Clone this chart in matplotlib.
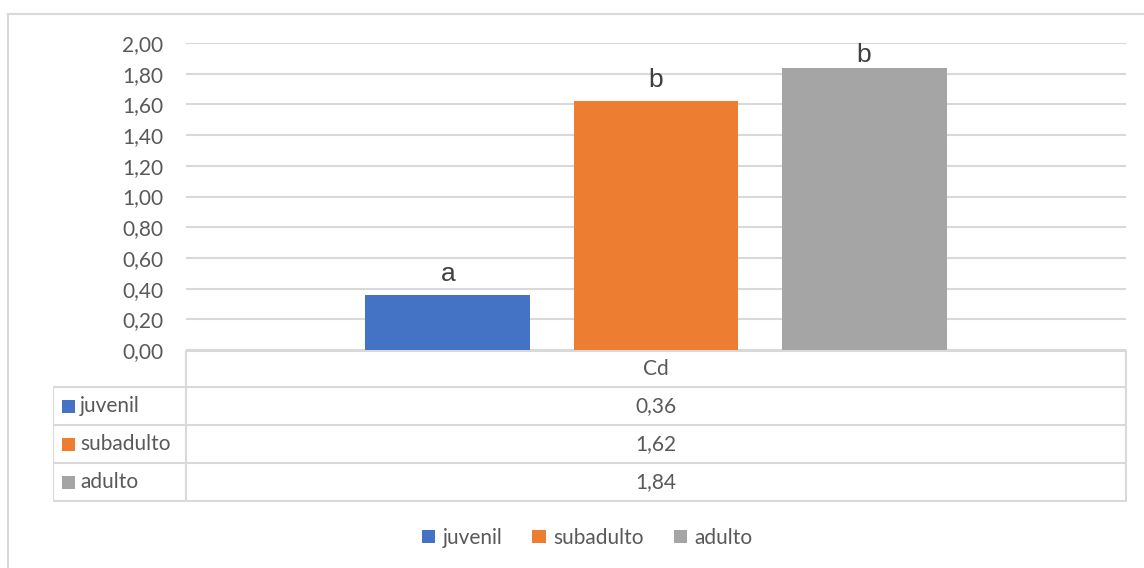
import matplotlib.pyplot as plt
from matplotlib.lines import Line2D
from matplotlib.patches import Patch

plt.rcParams['font.family'] = ['Lato', 'DejaVu Sans']

# data
groups = ["juvenil", "subadulto", "adulto"]
element = "Cd"
values = [0.36, 1.62, 1.84]
letters = ["a", "b", "b"]
colors = ["#4472C4", "#ED7D31", "#A5A5A5"]
yticks = [0.0, 0.2, 0.4, 0.6, 0.8, 1.0, 1.2, 1.4, 1.6, 1.8, 2.0]

W, H = 1144, 568
GRID = "#d9d9d9"
TXT = "#595959"
FS = 15


def fmt(v):
    return f"{v:.2f}".replace(".", ",")


fig = plt.figure(figsize=(W / 100, H / 100), dpi=100)
fig.patch.set_facecolor("white")

# outer chart frame (top and left edges)
fig.add_artist(Line2D([8 / W, 1], [1 - 14 / H, 1 - 14 / H], color=GRID, lw=1.5))
fig.add_artist(Line2D([8 / W, 8 / W], [0, 1 - 14 / H], color=GRID, lw=1.5))

# bar plot
ax = fig.add_axes([186 / W, (H - 350) / H, (1126 - 186) / W, 307 / H])
ymax = 2.0
bw = 0.1755
offs = [-0.2213, 0.0, 0.2213]
px = ymax / 307  # data units per pixel
for off, v, c, lab in zip(offs, values, colors, letters):
    ax.bar(0.5 + off, v, width=bw, color=c, zorder=3)
    # letter sits above the bar, kept inside the plot area
    ly = min(v + 14 * px, ymax - 19 * px)
    ax.text(0.5 + off, ly, lab, ha="center", va="baseline", fontsize=19,
            color="#404040", family=["Liberation Sans", "DejaVu Sans"])
ax.set_xlim(0, 1)
ax.set_ylim(0, ymax)
ax.set_yticks(yticks)
ax.set_yticklabels([fmt(t) for t in yticks])
ax.set_xticks([])
ax.tick_params(axis="y", length=0, pad=16.5, labelsize=FS, labelcolor=TXT)
ax.grid(axis="y", color=GRID, lw=1.5, zorder=0)
for s in ax.spines.values():
    s.set_visible(False)

# data table below the axis
tab = fig.add_axes([53 / W, (H - 502) / H, (1127 - 53) / W, 152 / H])
tab.set_xlim(53, 1127)
tab.set_ylim(502, 350)
tab.axis("off")
lk = dict(color=GRID, lw=1.5, solid_capstyle="projecting")
tab.plot([186, 1126], [350.5, 350.5], **lk)
for y in [387, 425, 463, 501]:
    tab.plot([53, 1126], [y, y], **lk)
tab.plot([53, 53], [387, 501], **lk)
tab.plot([186, 186], [350, 501], **lk)
tab.plot([1126, 1126], [350, 501], **lk)

tab.text(656, 369, element, ha="center", va="center", fontsize=FS, color=TXT)
row_y = [406, 444, 482]
for ry, g, v, c in zip(row_y, groups, values, colors):
    tab.add_patch(plt.Rectangle((62, ry - 6.5), 13, 13, color=c, lw=0))
    tab.text(80, ry, g, ha="left", va="center", fontsize=FS, color=TXT)
    tab.text(656, ry, fmt(v), ha="center", va="center", fontsize=FS, color=TXT)

# legend
handles = [Patch(facecolor=c, edgecolor="none") for c in colors]
fig.legend(handles, groups, loc="center", bbox_to_anchor=(587 / W, 1 - 538 / H),
           ncol=3, frameon=False, fontsize=FS, labelcolor=TXT,
           handlelength=0.63, handleheight=0.63, handletextpad=0.35, columnspacing=1.45)

fig.savefig("out.png", dpi=100)
